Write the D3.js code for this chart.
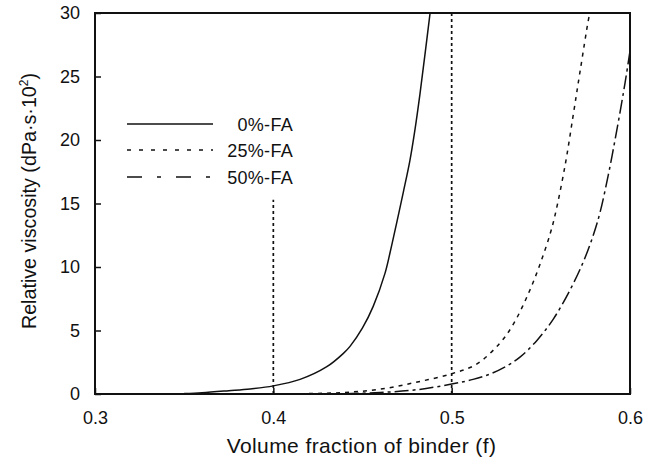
<!DOCTYPE html>
<html><head><meta charset="utf-8">
<script src="https://cdn.jsdelivr.net/npm/d3@7"></script>
<style>body{margin:0;background:#fff}svg{display:block}text{font-family:"Liberation Sans",Arial,sans-serif;fill:#111}</style>
</head><body><svg id="c" width="654" height="462"></svg>
<script>
// Data
const seriesNames = ["0%-FA", "25%-FA", "50%-FA"];
const fa0_f = [0.35, 0.36, 0.375, 0.387, 0.40, 0.415, 0.43, 0.4393, 0.443, 0.45, 0.456, 0.4626, 0.4654, 0.4692, 0.4729, 0.4766, 0.4794, 0.4822, 0.485, 0.4879];
const fa0_v = [0.03, 0.1, 0.26, 0.4, 0.64, 1.15, 2.15, 3.2, 3.75, 5.2, 6.9, 9.5, 11.1, 13.5, 15.9, 18.4, 20.8, 23.6, 26.7, 30.0];
const fa25_f = [0.42, 0.44, 0.46, 0.48, 0.50, 0.514, 0.527, 0.5346, 0.543, 0.5495, 0.5552, 0.558, 0.5636, 0.5682, 0.572, 0.5766, 0.5775];
const fa25_v = [0.03, 0.12, 0.38, 0.92, 1.6, 2.35, 4.0, 5.5, 7.9, 10.2, 12.6, 14.1, 18.0, 22.0, 25.4, 29.4, 30.0];
const fa50_f = [0.44, 0.46, 0.48, 0.50, 0.512, 0.522, 0.5308, 0.5383, 0.5477, 0.557, 0.5664, 0.5738, 0.5794, 0.5832, 0.5879, 0.5916, 0.5953, 0.5978, 0.60];
const fa50_v = [0.02, 0.12, 0.33, 0.78, 1.15, 1.6, 2.2, 2.9, 4.2, 5.9, 8.2, 10.4, 12.5, 14.3, 17.3, 20.0, 22.9, 25.0, 27.0];
const refLineF = [0.4, 0.5];
const refLineTop = [15.3, 30];
const xTicks = [0.3, 0.4, 0.5, 0.6];
const yTicks = [0, 5, 10, 15, 20, 25, 30];
const xTitle = "Volume fraction of binder (f)";

const svg = d3.select("#c");
const L = 95, R = 630, T = 13, B = 394;
const x = d3.scaleLinear().domain([0.3, 0.6]).range([L, R]);
const y = d3.scaleLinear().domain([0, 30]).range([B, T]);

svg.append("defs").append("clipPath").attr("id", "pc")
  .append("rect").attr("x", L).attr("y", T).attr("width", R - L).attr("height", B - T);

const g = svg.append("g").attr("clip-path", "url(#pc)");
const line = d3.line().x(d => x(d[0])).y(d => y(d[1])).curve(d3.curveCatmullRom.alpha(0.5));
const series = [
  { f: fa0_f, v: fa0_v, dash: null, legDash: null },
  { f: fa25_f, v: fa25_v, dash: "4,5", legDash: "4,8" },
  { f: fa50_f, v: fa50_v, dash: "14,4,3,4", legDash: "15,15,4,15" }
];
series.forEach(s => {
  g.append("path").datum(s.f.map((f, i) => [f, s.v[i]]))
    .attr("d", line).attr("fill", "none").attr("stroke", "#111")
    .attr("stroke-width", 1.5).attr("stroke-dasharray", s.dash);
});
refLineF.forEach((f, i) => {
  g.append("line").attr("x1", x(f)).attr("x2", x(f)).attr("y1", y(0)).attr("y2", y(refLineTop[i]))
    .attr("stroke", "#111").attr("stroke-width", 1.7).attr("stroke-dasharray", "3,3");
});

// axes
const xa = svg.append("g").attr("transform", `translate(0,${B})`)
  .call(d3.axisBottom(x).tickValues(xTicks).tickFormat(d3.format(".1f")).tickSize(-6).tickPadding(17));
const ya = svg.append("g").attr("transform", `translate(${L},0)`)
  .call(d3.axisLeft(y).tickValues(yTicks).tickSize(-6).tickPadding(15));
[xa, ya].forEach(a => {
  a.select(".domain").remove();
  a.selectAll(".tick line").attr("stroke", "#111").attr("stroke-width", 1.5);
  a.selectAll(".tick text").attr("font-size", 18).style("font-family", '"Liberation Sans",Arial,sans-serif').attr("fill", "#111");
});
svg.append("rect").attr("x", L).attr("y", T).attr("width", R - L).attr("height", B - T)
  .attr("fill", "none").attr("stroke", "#111").attr("stroke-width", 2);

// titles
svg.append("text").attr("x", (L + R) / 2 - 1).attr("y", 453).attr("text-anchor", "middle")
  .attr("font-size", 21).attr("letter-spacing", 0.4).text(xTitle);
const yt = svg.append("text").attr("transform", "translate(36,201) rotate(-90)").attr("text-anchor", "middle").attr("font-size", 19.7);
yt.append("tspan").text("Relative viscosity (dPa·s·10");
yt.append("tspan").attr("font-size", 12).attr("dy", -8).text("2");
yt.append("tspan").attr("dy", 8).text(")");

// legend
const legY = [124, 150, 177];
seriesNames.forEach((n, i) => {
  svg.append("line").attr("x1", 127).attr("x2", 213).attr("y1", legY[i]).attr("y2", legY[i])
    .attr("stroke", "#111").attr("stroke-width", 1.6).attr("stroke-dasharray", series[i].legDash);
  svg.append("text").attr("x", 293).attr("y", legY[i] + 6.5).attr("text-anchor", "end")
    .attr("font-size", 18).attr("letter-spacing", 0.3).text(n);
});
</script></body></html>
